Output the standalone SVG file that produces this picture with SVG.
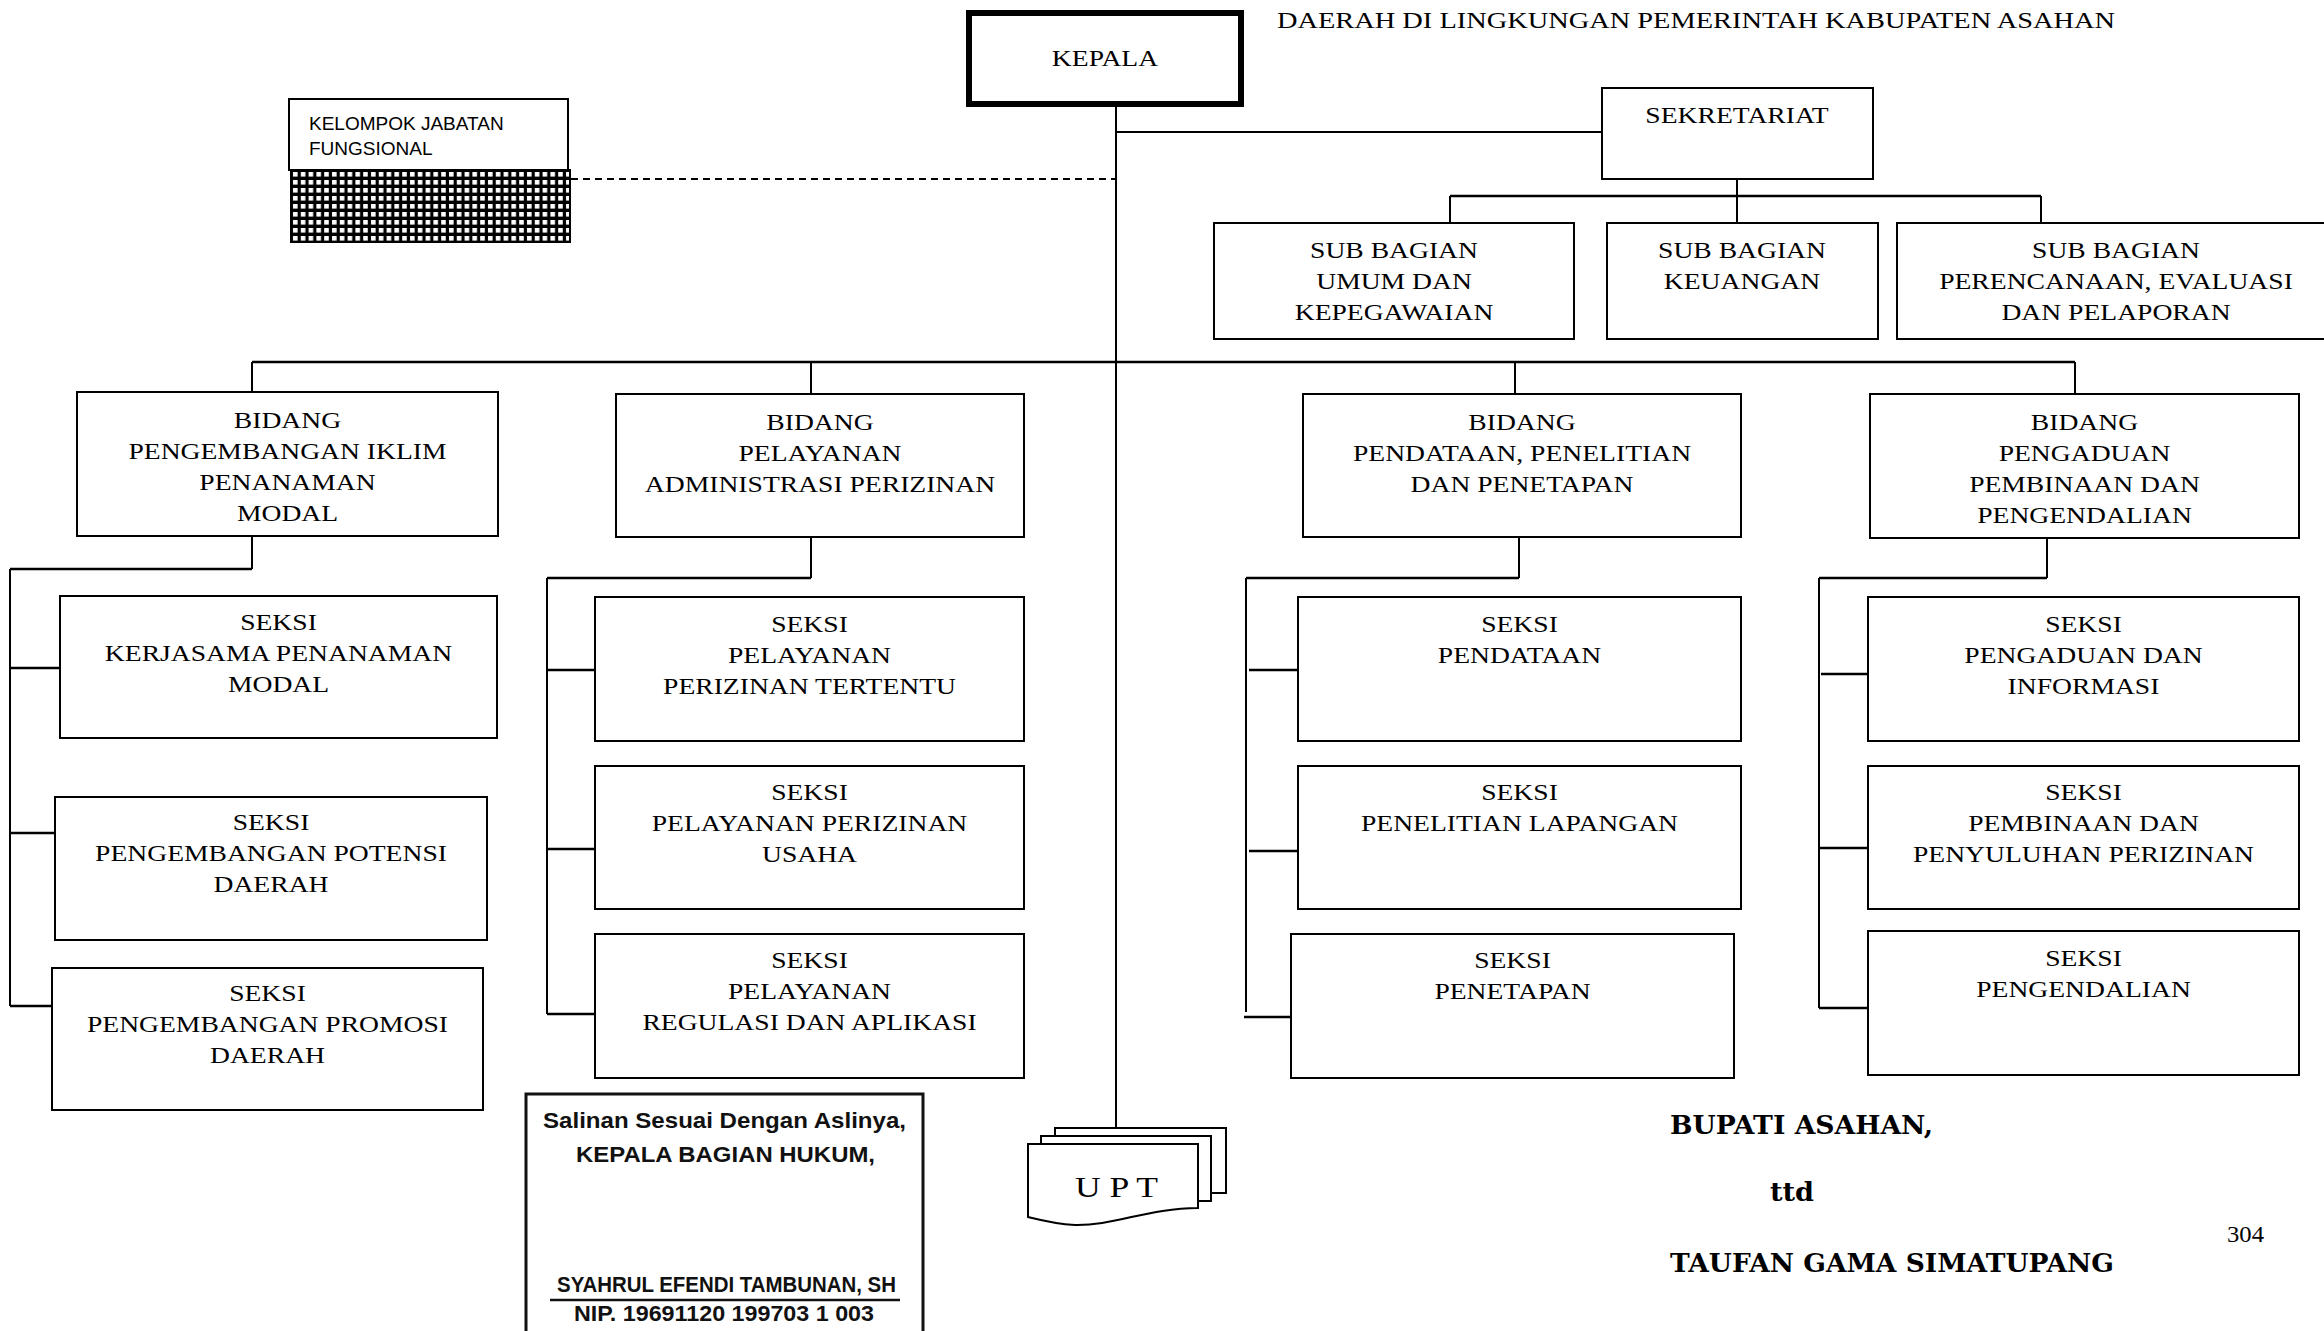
<svg xmlns="http://www.w3.org/2000/svg" width="2324" height="1331" viewBox="0 0 2324 1331">
  <style>
    .box { fill: #fff; stroke: #000; stroke-width: 2; }
    .t { font-family: "Liberation Serif", "Times New Roman", serif; font-size: 24px; fill: #000; text-anchor: middle; }
    .ln { fill: none; stroke: #000; stroke-width: 2; }
    .bus { fill: none; stroke: #000; stroke-width: 2.6; }
    .dash { fill: none; stroke: #000; stroke-width: 2; stroke-dasharray: 7 5; }
    .sans { font-family: "Liberation Sans", Arial, sans-serif; font-size: 19px; fill: #000; }
    .stamp { font-family: "Liberation Sans", Arial, sans-serif; font-weight: bold; font-size: 22px; fill: #111; }
    .sig { font-family: "DejaVu Serif", "Liberation Serif", serif; font-weight: bold; font-size: 26px; fill: #000; }
  </style>
  <defs>
    <pattern id="grid" patternUnits="userSpaceOnUse" x="291" y="170" width="7.8" height="8">
      <rect width="7.8" height="8" fill="#000"/>
      <rect x="2" y="2" width="4.6" height="4.6" fill="#fff"/>
    </pattern>
  </defs>

  <rect width="2324" height="1331" fill="#fff"/>

  <!-- heading line -->
  <text class="t" style="text-anchor:start" x="1277" y="28" textLength="838" lengthAdjust="spacingAndGlyphs">DAERAH DI LINGKUNGAN PEMERINTAH KABUPATEN ASAHAN</text>

  <!-- connectors -->
  <g id="connectors">
    <path class="ln" d="M1116 107 V1137"/>
    <path class="ln" d="M1116 132 H1602"/>
    <path class="dash" d="M571 179 H1116"/>
    <path class="ln" d="M1737 179 V196"/>
    <path class="bus" d="M1450 196 H2041"/>
    <path class="ln" d="M1450 196 V223 M1737 196 V223 M2041 196 V223"/>
    <path class="bus" d="M252 362 H2075"/>
    <path class="ln" d="M252 362 V392 M811 362 V394 M1515 362 V394 M2075 362 V394"/>
    <!-- column 1 -->
    <path class="ln" d="M252 536 V569"/>
    <path class="bus" d="M10 569 H252"/>
    <path class="ln" d="M10 569 V1006"/>
    <path class="bus" d="M10 668 H60 M10 833 H55 M10 1006 H52"/>
    <!-- column 2 -->
    <path class="ln" d="M811 537 V578"/>
    <path class="bus" d="M547 578 H811"/>
    <path class="ln" d="M547 578 V1014"/>
    <path class="bus" d="M547 670 H595 M547 849 H595 M547 1014 H595"/>
    <!-- column 3 -->
    <path class="ln" d="M1519 537 V578"/>
    <path class="bus" d="M1246 578 H1519"/>
    <path class="ln" d="M1246 578 V1012"/>
    <path class="bus" d="M1249 670 H1298 M1249 851 H1298 M1244 1017 H1291"/>
    <!-- column 4 -->
    <path class="ln" d="M2047 537 V578"/>
    <path class="bus" d="M1819 578 H2047"/>
    <path class="ln" d="M1819 578 V1008"/>
    <path class="bus" d="M1821 674 H1868 M1819 848 H1868 M1819 1008 H1868"/>
  </g>

  <!-- top level -->
  <g id="kepala">
    <rect x="969" y="13" width="272" height="91" fill="#fff" stroke="#000" stroke-width="6"/>
    <text class="t" transform="translate(1105 66) scale(1.15 1)">KEPALA</text>
  </g>

  <g id="kelompok-jabatan-fungsional">
    <rect class="box" x="289" y="99" width="279" height="71"/>
    <rect x="291" y="170" width="279" height="72" fill="url(#grid)" stroke="#000" stroke-width="2"/>
    <text class="sans" x="309" y="130">KELOMPOK JABATAN</text>
    <text class="sans" x="309" y="155">FUNGSIONAL</text>
  </g>

  <g id="sekretariat">
    <rect class="box" x="1602" y="88" width="271" height="91"/>
    <text class="t" transform="translate(1737 123) scale(1.15 1)">SEKRETARIAT</text>
  </g>

  <g id="subbag-umum">
    <rect class="box" x="1214" y="223" width="360" height="116"/>
    <text class="t" transform="translate(1394 258) scale(1.15 1)"><tspan x="0" y="0">SUB BAGIAN</tspan><tspan x="0" y="31">UMUM DAN</tspan><tspan x="0" y="62">KEPEGAWAIAN</tspan></text>
  </g>
  <g id="subbag-keuangan">
    <rect class="box" x="1607" y="223" width="271" height="116"/>
    <text class="t" transform="translate(1742 258) scale(1.15 1)"><tspan x="0" y="0">SUB BAGIAN</tspan><tspan x="0" y="31">KEUANGAN</tspan></text>
  </g>
  <g id="subbag-perencanaan">
    <rect class="box" x="1897" y="223" width="440" height="116"/>
    <text class="t" transform="translate(2116 258) scale(1.15 1)"><tspan x="0" y="0">SUB BAGIAN</tspan><tspan x="0" y="31">PERENCANAAN, EVALUASI</tspan><tspan x="0" y="62">DAN PELAPORAN</tspan></text>
  </g>

  <!-- bidang -->
  <g id="bidang-iklim">
    <rect class="box" x="77" y="392" width="421" height="144"/>
    <text class="t" transform="translate(287.5 428) scale(1.15 1)"><tspan x="0" y="0">BIDANG</tspan><tspan x="0" y="31">PENGEMBANGAN IKLIM</tspan><tspan x="0" y="62">PENANAMAN</tspan><tspan x="0" y="93">MODAL</tspan></text>
  </g>
  <g id="bidang-pelayanan">
    <rect class="box" x="616" y="394" width="408" height="143"/>
    <text class="t" transform="translate(820 430) scale(1.15 1)"><tspan x="0" y="0">BIDANG</tspan><tspan x="0" y="31">PELAYANAN</tspan><tspan x="0" y="62">ADMINISTRASI PERIZINAN</tspan></text>
  </g>
  <g id="bidang-pendataan">
    <rect class="box" x="1303" y="394" width="438" height="143"/>
    <text class="t" transform="translate(1522 430) scale(1.15 1)"><tspan x="0" y="0">BIDANG</tspan><tspan x="0" y="31">PENDATAAN, PENELITIAN</tspan><tspan x="0" y="62">DAN PENETAPAN</tspan></text>
  </g>
  <g id="bidang-pengaduan">
    <rect class="box" x="1870" y="394" width="429" height="144"/>
    <text class="t" transform="translate(2084.5 430) scale(1.15 1)"><tspan x="0" y="0">BIDANG</tspan><tspan x="0" y="31">PENGADUAN</tspan><tspan x="0" y="62">PEMBINAAN DAN</tspan><tspan x="0" y="93">PENGENDALIAN</tspan></text>
  </g>

  <!-- seksi, column 1 -->
  <g id="seksi-kerjasama">
    <rect class="box" x="60" y="596" width="437" height="142"/>
    <text class="t" transform="translate(278.5 630) scale(1.15 1)"><tspan x="0" y="0">SEKSI</tspan><tspan x="0" y="31">KERJASAMA PENANAMAN</tspan><tspan x="0" y="62">MODAL</tspan></text>
  </g>
  <g id="seksi-potensi">
    <rect class="box" x="55" y="797" width="432" height="143"/>
    <text class="t" transform="translate(271 830) scale(1.15 1)"><tspan x="0" y="0">SEKSI</tspan><tspan x="0" y="31">PENGEMBANGAN POTENSI</tspan><tspan x="0" y="62">DAERAH</tspan></text>
  </g>
  <g id="seksi-promosi">
    <rect class="box" x="52" y="968" width="431" height="142"/>
    <text class="t" transform="translate(267.5 1001) scale(1.15 1)"><tspan x="0" y="0">SEKSI</tspan><tspan x="0" y="31">PENGEMBANGAN PROMOSI</tspan><tspan x="0" y="62">DAERAH</tspan></text>
  </g>

  <!-- seksi, column 2 -->
  <g id="seksi-perizinan-tertentu">
    <rect class="box" x="595" y="597" width="429" height="144"/>
    <text class="t" transform="translate(809.5 632) scale(1.15 1)"><tspan x="0" y="0">SEKSI</tspan><tspan x="0" y="31">PELAYANAN</tspan><tspan x="0" y="62">PERIZINAN TERTENTU</tspan></text>
  </g>
  <g id="seksi-perizinan-usaha">
    <rect class="box" x="595" y="766" width="429" height="143"/>
    <text class="t" transform="translate(809.5 800) scale(1.15 1)"><tspan x="0" y="0">SEKSI</tspan><tspan x="0" y="31">PELAYANAN PERIZINAN</tspan><tspan x="0" y="62">USAHA</tspan></text>
  </g>
  <g id="seksi-regulasi">
    <rect class="box" x="595" y="934" width="429" height="144"/>
    <text class="t" transform="translate(809.5 968) scale(1.15 1)"><tspan x="0" y="0">SEKSI</tspan><tspan x="0" y="31">PELAYANAN</tspan><tspan x="0" y="62">REGULASI DAN APLIKASI</tspan></text>
  </g>

  <!-- seksi, column 3 -->
  <g id="seksi-pendataan">
    <rect class="box" x="1298" y="597" width="443" height="144"/>
    <text class="t" transform="translate(1519.5 632) scale(1.15 1)"><tspan x="0" y="0">SEKSI</tspan><tspan x="0" y="31">PENDATAAN</tspan></text>
  </g>
  <g id="seksi-penelitian">
    <rect class="box" x="1298" y="766" width="443" height="143"/>
    <text class="t" transform="translate(1519.5 800) scale(1.15 1)"><tspan x="0" y="0">SEKSI</tspan><tspan x="0" y="31">PENELITIAN LAPANGAN</tspan></text>
  </g>
  <g id="seksi-penetapan">
    <rect class="box" x="1291" y="934" width="443" height="144"/>
    <text class="t" transform="translate(1512.5 968) scale(1.15 1)"><tspan x="0" y="0">SEKSI</tspan><tspan x="0" y="31">PENETAPAN</tspan></text>
  </g>

  <!-- seksi, column 4 -->
  <g id="seksi-pengaduan">
    <rect class="box" x="1868" y="597" width="431" height="144"/>
    <text class="t" transform="translate(2083.5 632) scale(1.15 1)"><tspan x="0" y="0">SEKSI</tspan><tspan x="0" y="31">PENGADUAN DAN</tspan><tspan x="0" y="62">INFORMASI</tspan></text>
  </g>
  <g id="seksi-pembinaan">
    <rect class="box" x="1868" y="766" width="431" height="143"/>
    <text class="t" transform="translate(2083.5 800) scale(1.15 1)"><tspan x="0" y="0">SEKSI</tspan><tspan x="0" y="31">PEMBINAAN DAN</tspan><tspan x="0" y="62">PENYULUHAN PERIZINAN</tspan></text>
  </g>
  <g id="seksi-pengendalian">
    <rect class="box" x="1868" y="931" width="431" height="144"/>
    <text class="t" transform="translate(2083.5 966) scale(1.15 1)"><tspan x="0" y="0">SEKSI</tspan><tspan x="0" y="31">PENGENDALIAN</tspan></text>
  </g>

  <!-- UPT: stacked document symbol -->
  <g id="upt">
    <rect class="box" x="1055" y="1128" width="171" height="65"/>
    <rect class="box" x="1041" y="1136" width="170" height="65"/>
    <path class="box" d="M1028 1144 H1198 V1208 C1150 1208 1112 1226 1075 1225 C1055 1224 1040 1220 1028 1217 Z"/>
    <text class="t" x="1075" y="1197" style="text-anchor:start;font-size:30px" textLength="83" lengthAdjust="spacingAndGlyphs">U P T</text>
  </g>

  <!-- certified copy stamp -->
  <g id="stamp">
    <path d="M526 1331 V1094 H923 V1331" fill="none" stroke="#111" stroke-width="3"/>
    <text class="stamp" x="543" y="1128" textLength="363" lengthAdjust="spacingAndGlyphs">Salinan Sesuai Dengan Aslinya,</text>
    <text class="stamp" x="576" y="1162" textLength="299" lengthAdjust="spacingAndGlyphs">KEPALA BAGIAN HUKUM,</text>
    <text class="stamp" x="557" y="1292" textLength="339" lengthAdjust="spacingAndGlyphs">SYAHRUL EFENDI TAMBUNAN, SH</text>
    <path d="M550 1300 H900" stroke="#111" stroke-width="2.5"/>
    <text class="stamp" x="574" y="1321" textLength="300" lengthAdjust="spacingAndGlyphs">NIP. 19691120 199703 1 003</text>
  </g>

  <!-- signature block -->
  <g id="signature">
    <text class="sig" x="1670" y="1134" textLength="263" lengthAdjust="spacingAndGlyphs">BUPATI ASAHAN,</text>
    <text class="sig" x="1770" y="1201" textLength="44" lengthAdjust="spacingAndGlyphs">ttd</text>
    <text class="sig" x="1670" y="1272" textLength="444" lengthAdjust="spacingAndGlyphs">TAUFAN GAMA SIMATUPANG</text>
  </g>

  <text class="t" x="2227" y="1242" style="text-anchor:start" textLength="37" lengthAdjust="spacingAndGlyphs">304</text>
</svg>
